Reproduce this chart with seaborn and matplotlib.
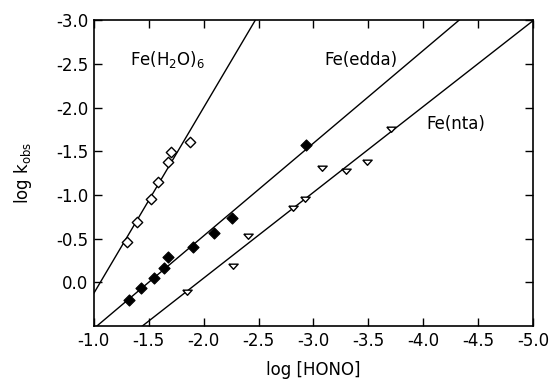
import numpy as np
import pandas as pd
import matplotlib
matplotlib.use('Agg')
import matplotlib.pyplot as plt
import seaborn as sns

# values: log [HONO] vs log k_obs
aqua_x = [-1.30, -1.39, -1.52, -1.58, -1.68, -1.70, -1.88]
aqua_y = [-0.46, -0.69, -0.95, -1.15, -1.38, -1.49, -1.61]
edda_x = [-1.32, -1.43, -1.55, -1.64, -1.68, -1.90, -2.09, -2.26, -2.93]
edda_y = [0.20, 0.07, -0.05, -0.16, -0.29, -0.40, -0.57, -0.74, -1.57]
nta_x = [-1.85, -2.27, -2.40, -2.81, -2.92, -3.08, -3.30, -3.49, -3.71]
nta_y = [0.11, -0.19, -0.53, -0.85, -0.95, -1.31, -1.27, -1.38, -1.75]

x_ticks = [-1.0, -1.5, -2.0, -2.5, -3.0, -3.5, -4.0, -4.5, -5.0]
y_ticks = [-3.0, -2.5, -2.0, -1.5, -1.0, -0.5, 0.0]

# style
sns.set_theme(style="ticks")
plt.rcParams['font.family'] = ['DejaVu Sans']
plt.rcParams['axes.unicode_minus'] = False
plt.rcParams['mathtext.default'] = 'regular'
plt.rcParams['text.color'] = 'black'
plt.rcParams['axes.labelcolor'] = 'black'

fig = plt.figure(figsize=(5.52, 3.80), dpi=100)
ax = fig.add_axes([0.170, 0.142, 0.7956, 0.805])
ax.set_xlim(-1.0, -5.0)
ax.set_ylim(0.5, -3.0)

tri = [(-1, 0.5), (1, 0.5), (0, -0.6), (-1, 0.5)]
series = [
    (aqua_x, aqua_y, dict(marker='D', s=28, facecolors='white', edgecolors='black', linewidths=1.0)),
    (edda_x, edda_y, dict(marker='D', s=32, color='black', edgecolors='black', linewidths=0.8)),
    (nta_x, nta_y, dict(marker=tri, s=45, facecolors='white', edgecolors='black', linewidths=1.0)),
]
for xs, ys, kw in series:
    df = pd.DataFrame({'x': xs, 'y': ys})
    # least-squares line over the full axis width
    sns.regplot(data=df, x='x', y='y', ax=ax, ci=None, truncate=False, scatter=False,
                line_kws=dict(color='black', lw=1.0, zorder=2))
    ax.scatter(df['x'], df['y'], zorder=3, **kw)

ax.set_xlim(-1.0, -5.0)
ax.set_ylim(0.5, -3.0)
ax.set_xticks(x_ticks)
ax.set_yticks(y_ticks)
ax.set_xticklabels([f"{t:.1f}" for t in x_ticks])
ax.set_yticklabels([f"{t:.1f}" for t in y_ticks])
ax.tick_params(direction='in', length=6, width=1.0, top=True, right=True,
               labelsize=12, colors='black', pad=4)
for sp in ax.spines.values():
    sp.set_linewidth(1.2)
    sp.set_color('black')

ax.set_xlabel("log [HONO]", fontsize=12, labelpad=8)
ax.set_ylabel("log k$_{obs}$", fontsize=12, labelpad=16)

ax.text(-1.33, -2.49, "Fe(H$_2$O)$_6$", fontsize=12, va='baseline')
ax.text(-3.10, -2.49, "Fe(edda)", fontsize=12, va='baseline')
ax.text(-4.03, -1.75, "Fe(nta)", fontsize=12, va='baseline')

fig.savefig("out.png", dpi=100)
